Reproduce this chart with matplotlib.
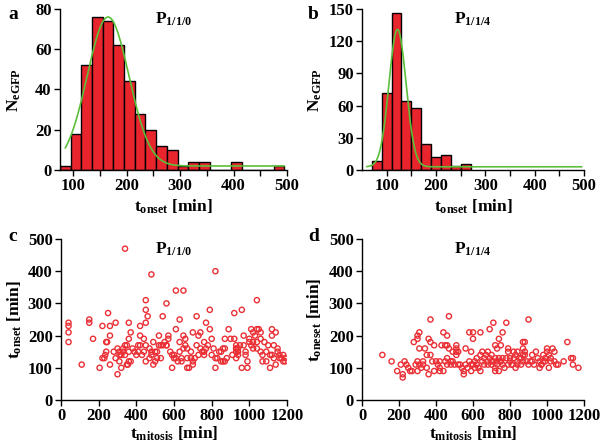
import numpy as np
import matplotlib
matplotlib.use('Agg')
import matplotlib.pyplot as plt

plt.rcParams['font.family'] = 'Liberation Serif'
plt.rcParams['font.weight'] = 'bold'
plt.rcParams['mathtext.fontset'] = 'custom'
plt.rcParams['mathtext.rm'] = 'Liberation Serif:bold'
plt.rcParams['mathtext.it'] = 'Liberation Serif:bold'
plt.rcParams['mathtext.bf'] = 'Liberation Serif:bold'

# ---- data ----
# histogram a (P1/1/0): bin edges and counts
edges_a = [75, 95, 115, 135, 155, 175, 195, 215, 235, 255, 275, 295, 315, 335, 355, 375, 395, 415, 435, 455, 475, 495]
counts_a = [2, 18, 52, 76, 74, 62, 44, 28, 20, 12, 10, 2, 4, 4, 0, 0, 4, 0, 0, 0, 2]
# gaussian fit a: amplitude, centre, sigma, baseline
fit_a = (74, 165, 39, 2)
fit_a_range = (85, 495)

# histogram b (P1/1/4)
edges_b = [70, 90, 110, 130, 150, 170, 190, 210, 230, 250, 270]
counts_b = [8, 72, 146, 64, 58, 24, 12, 14, 4, 6]
fit_b = (128, 122, 17.3, 3)
fit_b_range = (60, 495)

# scatter c (P1/1/0): t_mitosis, t_onset
mit_c = [40, 40, 40, 40, 110, 150, 150, 170, 205, 220, 220, 230, 235, 240, 240, 245, 250, 260, 260, 260,
         280, 290, 300, 300, 310, 310, 320, 320, 330, 340, 340, 340, 350, 350, 355, 360, 360, 360, 360, 370, 370,
         400, 410, 410, 420, 420, 420, 430, 440, 450, 450, 450, 450, 450, 460, 470, 480, 480, 480, 490, 490,
         500, 500, 510, 510, 520, 520, 530, 540, 540, 550, 560, 560, 570, 570, 580, 590, 590, 600, 610, 610, 610,
         620, 630, 630, 630, 640, 640, 650, 650, 660, 660, 670, 670, 680, 690, 700, 700, 700, 710, 720, 720,
         730, 740, 740, 750, 760, 760, 770, 780, 790, 790, 800, 800, 810, 820, 820, 820, 830, 850, 860, 860,
         870, 870, 870, 880, 890, 900, 920, 920, 930, 930, 930, 930, 940, 940, 950, 960, 960, 970, 970, 980,
         980, 990, 990, 1000, 1010, 1020, 1020, 1020, 1030, 1040, 1040, 1040, 1040, 1050, 1060, 1060, 1070, 1070,
         1080, 1090, 1090, 1100, 1110, 1120, 1120, 1120, 1130, 1130, 1140, 1140, 1150, 1150, 1160, 1170, 1180,
         1190, 1190, 1180, 290, 330, 380, 440, 470, 530, 600, 650, 690, 730, 770, 850, 910, 940, 1000, 1060,
         1110, 1160, 310, 390, 560, 670, 760, 840, 930, 1010]
ons_c = [240, 230, 210, 180, 110, 250, 240, 190, 100, 230, 130, 130, 140, 150, 180, 180, 270, 230, 200, 110,
         150, 240, 80, 160, 150, 120, 100, 140, 150, 470, 170, 140, 170, 110, 110, 240, 190, 150, 120, 210, 120,
         140, 170, 150, 230, 200, 170, 140, 190, 310, 280, 240, 170, 120, 260, 130, 390, 150, 140, 180, 110,
         120, 150, 150, 130, 200, 170, 170, 260, 170, 180, 300, 170, 190, 200, 150, 140, 100, 130, 340, 220, 130,
         120, 250, 180, 150, 120, 130, 340, 200, 190, 170, 100, 130, 100, 130, 210, 120, 110, 130, 260, 170,
         200, 210, 160, 150, 180, 150, 240, 170, 280, 220, 190, 140, 160, 400, 100, 130, 130, 150, 160, 120,
         190, 160, 120, 130, 220, 190, 270, 190, 170, 160, 150, 130, 160, 140, 170, 280, 100, 200, 170, 150,
         140, 100, 120, 180, 220, 210, 180, 160, 200, 310, 220, 180, 160, 220, 210, 190, 140, 120,
         180, 150, 120, 170, 100, 220, 200, 140, 170, 130, 210, 110, 160, 150, 140, 130, 140,
         130, 120, 120, 130, 160, 160, 150, 160, 130, 140, 160, 150, 140, 160, 120, 140, 150, 190, 150,
         140, 130, 140, 150, 170, 160, 140, 150, 160, 170]

# scatter d (P1/1/4)
mit_d = [110, 160, 190, 210, 220, 220, 230, 240, 250, 260, 270, 280, 290, 300, 300, 300, 300, 310, 310, 310,
         320, 330, 340, 350, 350, 360, 360, 370, 370, 370, 380, 390, 390, 400, 410, 420, 420, 430, 440, 440,
         450, 450, 460, 460, 460, 460, 470, 470, 480, 490, 490, 500, 510, 510, 510, 510, 520, 520, 530, 540,
         550, 550, 560, 570, 580, 580, 590, 590, 590, 600, 600, 600, 610, 620, 620, 630, 640, 640, 640, 650,
         650, 660, 670, 680, 680, 690, 690, 700, 700, 710, 710, 720, 720, 720, 720, 730, 730, 740, 740, 740,
         750, 750, 760, 760, 770, 780, 780, 790, 790, 790, 800, 810, 820, 820, 830, 830, 840, 840, 850, 860,
         870, 870, 870, 870, 880, 880, 890, 900, 900, 910, 920, 930, 940, 950, 960, 960, 970, 980, 980, 990,
         1000, 1000, 1010, 1010, 1020, 1030, 1040, 1040, 1050, 1060, 1090, 1110, 1130, 1140, 1140, 1170,
         330, 420, 480, 560, 610, 660, 700, 730, 760, 800, 840, 880, 920, 970, 1020, 680, 750, 810, 860, 990]
ons_d = [140, 120, 90, 110, 80, 70, 120, 110, 100, 90, 90, 180, 110, 200, 190, 120, 90, 210, 160, 110,
         100, 120, 160, 140, 100, 190, 80, 250, 180, 140, 120, 170, 90, 120, 110, 120, 90, 170, 210, 90,
         170, 120, 200, 170, 130, 110, 260, 160, 110, 150, 120, 110, 170, 160, 150, 140, 150, 110, 110, 100,
         90, 80, 160, 100, 210, 120, 150, 110, 90, 210, 190, 110, 100, 130, 110, 100, 210, 140, 90, 150,
         120, 130, 140, 150, 120, 220, 130, 110, 140, 240, 120, 170, 130, 100, 90, 160, 110, 190, 130, 90,
         170, 120, 210, 130, 100, 240, 130, 160, 150, 110, 120, 110, 150, 130, 140, 100, 150, 120, 130, 110,
         180, 160, 140, 120, 180, 150, 120, 250, 110, 120, 140, 110, 150, 130, 120, 100, 110, 140, 120, 130,
         160, 150, 100, 140, 130, 160, 150, 120, 110, 110, 120, 180, 130, 130, 110, 100,
         110, 100, 120, 110, 120, 110, 120, 120, 110, 130, 110, 140, 120, 110, 120, 110, 120, 110, 130, 120]

bar_color = '#e8252d'
fit_color = '#5cbf3a'
dot_color = '#ea2f35'


def style_axes(ax):
    for s in ['top', 'right']:
        ax.spines[s].set_visible(False)
    for s in ['left', 'bottom']:
        ax.spines[s].set_linewidth(1.0)
    ax.tick_params(direction='out', length=4, width=1, labelsize=12, pad=2)
    ax.tick_params(which='minor', direction='out', length=4, width=1)
    for lab in ax.get_xticklabels() + ax.get_yticklabels():
        lab.set_fontweight('bold')


def gauss(x, p):
    A, mu, s, b = p
    return b + A * np.exp(-(x - mu) ** 2 / (2 * s ** 2))


fig = plt.figure(figsize=(6, 4.44), dpi=100)

# ---- panel a ----
ax = fig.add_axes([60 / 600, 1 - 170 / 444, 227 / 600, 161 / 444])
ax.hist(edges_a[:-1], bins=edges_a, weights=counts_a, color=bar_color, edgecolor='black', linewidth=1)
xx = np.linspace(fit_a_range[0], fit_a_range[1], 300)
ax.plot(xx, gauss(xx, fit_a), color=fit_color, lw=1.2)
ax.set_xlim(75, 500)
ax.set_ylim(0, 80)
ax.set_xticks([100, 200, 300, 400, 500])
ax.set_xticks([150, 250, 350, 450], minor=True)
ax.set_yticks([0, 20, 40, 60, 80])
style_axes(ax)
ax.set_ylabel(r'N$_{eGFP}$', fontsize=12.5, fontweight='bold')
ax.yaxis.set_label_coords(-0.165, 0.5)
ax.set_xlabel(r't$_{onset}$ [min]', fontsize=12.5, fontweight='bold', labelpad=2)
ax.text(0.5, 0.99, r'P$_{1/1/0}$', transform=ax.transAxes, ha='center', va='top', fontsize=12.5, fontweight='bold')

# ---- panel b ----
ax = fig.add_axes([362 / 600, 1 - 170 / 444, 222 / 600, 161 / 444])
ax.hist(edges_b[:-1], bins=edges_b, weights=counts_b, color=bar_color, edgecolor='black', linewidth=1)
xx = np.linspace(fit_b_range[0], fit_b_range[1], 300)
ax.plot(xx, gauss(xx, fit_b), color=fit_color, lw=1.2)
ax.set_xlim(50, 500)
ax.set_ylim(0, 150)
ax.set_xticks([100, 200, 300, 400, 500])
ax.set_xticks([150, 250, 350, 450], minor=True)
ax.set_yticks([0, 30, 60, 90, 120, 150])
style_axes(ax)
ax.set_ylabel(r'N$_{eGFP}$', fontsize=12.5, fontweight='bold')
ax.yaxis.set_label_coords(-0.17, 0.5)
ax.set_xlabel(r't$_{onset}$ [min]', fontsize=12.5, fontweight='bold', labelpad=2)
ax.text(0.5, 0.99, r'P$_{1/1/4}$', transform=ax.transAxes, ha='center', va='top', fontsize=12.5, fontweight='bold')

# ---- panel c ----
ax = fig.add_axes([61 / 600, 1 - 400 / 444, 226 / 600, 161 / 444])
ax.scatter(mit_c, ons_c, s=14, facecolors='none', edgecolors=dot_color, linewidths=1)
ax.set_xlim(0, 1200)
ax.set_ylim(0, 500)
ax.set_xticks(range(0, 1201, 200))
ax.set_yticks(range(0, 501, 100))
style_axes(ax)
ax.set_ylabel(r't$_{onset}$ [min]', fontsize=12.5, fontweight='bold')
ax.yaxis.set_label_coords(-0.165, 0.5)
ax.set_xlabel(r't$_{mitosis}$ [min]', fontsize=12.5, fontweight='bold', labelpad=0)
ax.text(0.5, 0.99, r'P$_{1/1/0}$', transform=ax.transAxes, ha='center', va='top', fontsize=12.5, fontweight='bold')

# ---- panel d ----
ax = fig.add_axes([362 / 600, 1 - 400 / 444, 222 / 600, 161 / 444])
ax.scatter(mit_d, ons_d, s=14, facecolors='none', edgecolors=dot_color, linewidths=1)
ax.set_xlim(0, 1200)
ax.set_ylim(0, 500)
ax.set_xticks(range(0, 1201, 200))
ax.set_yticks(range(0, 501, 100))
style_axes(ax)
ax.set_ylabel(r't$_{oneset}$ [min]', fontsize=12.5, fontweight='bold')
ax.yaxis.set_label_coords(-0.17, 0.5)
ax.set_xlabel(r't$_{mitosis}$ [min]', fontsize=12.5, fontweight='bold', labelpad=0)
ax.text(0.5, 0.99, r'P$_{1/1/4}$', transform=ax.transAxes, ha='center', va='top', fontsize=12.5, fontweight='bold')

# panel letters
for lx, ly, lt in [(8, 6, 'a'), (308, 6, 'b'), (8, 228, 'c'), (308, 228, 'd')]:
    fig.text(lx / 600, 1 - ly / 444, lt, ha='left', va='top', fontsize=14, fontweight='bold')

fig.savefig('out.png', dpi=100)
